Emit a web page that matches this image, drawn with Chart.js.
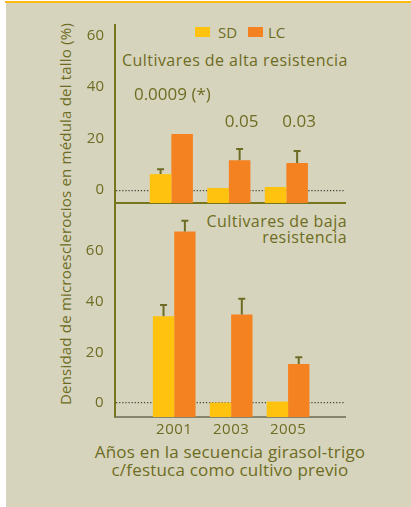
<!DOCTYPE html>
<html>
<head>
<meta charset="utf-8">
<script src="https://cdn.jsdelivr.net/npm/chart.js@4.4.1/dist/chart.umd.min.js"></script>
<style>
  body { margin: 0; width: 411px; height: 507px; overflow: hidden; background: #fff; font-family: "Open Sans", sans-serif; color: #6e6c22; }
  #panel { position: absolute; left: 6px; top: 3px; right: 0; bottom: 0; background: #d6d4bd; }
  #topline { position: absolute; left: 5px; top: 1px; right: 0; height: 2px; background: #fdb913; }
  canvas { position: absolute; left: 0; }
  #cTop { top: 0; }
  #cBot { top: 203px; }
  .txt { position: absolute; white-space: nowrap; }
  .sw { position: absolute; width: 15px; height: 10px; }
  #ytitle { position: absolute; left: -135px; top: 205px; width: 400px; text-align: center; font-size: 15px; letter-spacing: 0.2px; line-height: 18px; transform: rotate(-90deg); }
  #xtitle { position: absolute; left: 30px; top: 443px; width: 400px; text-align: center; font-size: 17px; letter-spacing: 0.2px; line-height: 18px; }
</style>
</head>
<body>
<div id="panel"></div>
<div id="topline"></div>

<div class="sw" style="left:195px; top:27px; background:#ffc20e"></div>
<div class="txt" style="left:218px; top:22px; font-size:15px">SD</div>
<div class="sw" style="left:248px; top:27px; background:#f58220"></div>
<div class="txt" style="left:268px; top:22px; font-size:15px">LC</div>

<div class="txt" style="left:122px; top:49px; font-size:16px; letter-spacing:0.45px">Cultivares de alta resistencia</div>
<div class="txt" style="right:64px; top:214px; font-size:16px; letter-spacing:0.45px; line-height:15.5px; text-align:right">Cultivares de baja<br>resistencia</div>

<div id="ytitle">Densidad de microesclerocios en médula del tallo (%)</div>
<div id="xtitle"></div>

<canvas id="cTop" width="411" height="215"></canvas>
<canvas id="cBot" width="411" height="304"></canvas>

<script>
const years = ['2001', '2003', '2005'];
const yTicks = [0, 20, 40, 60];
const seriesNames = ['SD', 'LC'];
const xTitle = ['Años en la secuencia girasol-trigo', 'c/festuca como cultivo previo'];

// Cultivares de alta resistencia
const altaSD = [6.2, 0.8, 1.2];
const altaLC = [21.7, 11.6, 10.5];
const altaSDErr = [1.9, null, null];
const altaLCErr = [null, 4.3, 4.7];
const altaP = ['0.0009 (*)', '0.05', '0.03'];

// Cultivares de baja resistencia
const bajaSD = [34.3, 0.2, 0.6];
const bajaLC = [67.7, 35.0, 15.4];
const bajaSDErr = [4.4, null, null];
const bajaLCErr = [4.3, 6.2, 2.7];

const OLIVE = '#6e6c22';
const SD_COLOR = '#ffc20e';
const LC_COLOR = '#f58220';

Chart.defaults.font.family = '"Open Sans", sans-serif';
Chart.defaults.color = OLIVE;

document.getElementById('xtitle').innerHTML = xTitle.join('<br>');

const errorBars = {
  id: 'errorBars',
  afterDatasetsDraw(chart) {
    const { ctx } = chart;
    const y = chart.scales.y;
    chart.data.datasets.forEach((ds, i) => {
      chart.getDatasetMeta(i).data.forEach((bar, j) => {
        const e = ds.err[j];
        if (e == null) return;
        const top = y.getPixelForValue(ds.data[j].y + e);
        ctx.save();
        ctx.strokeStyle = OLIVE;
        ctx.lineWidth = 2;
        ctx.beginPath();
        ctx.moveTo(bar.x, bar.y);
        ctx.lineTo(bar.x, top);
        ctx.moveTo(bar.x - 3.5, top);
        ctx.lineTo(bar.x + 3.5, top);
        ctx.stroke();
        ctx.restore();
      });
    });
  }
};

const pLabels = {
  id: 'pLabels',
  afterDraw(chart) {
    const { ctx } = chart;
    const lc = chart.getDatasetMeta(1).data;
    ctx.save();
    ctx.font = '17px "Open Sans", sans-serif';
    ctx.fillStyle = OLIVE;
    ctx.textAlign = 'center';
    ctx.textBaseline = 'middle';
    altaP.forEach((t, i) => {
      const x = i === 0 ? chart.scales.x.getPixelForValue(i) + 1 : lc[i].x + 2;
      ctx.fillText(t, x, i === 0 ? 95 : 122);
    });
    ctx.restore();
  }
};

// wider tracking for the axis texts, like the original typeface
const spacing = {
  id: 'spacing',
  beforeDraw(chart, args, opts) { chart.ctx.letterSpacing = opts.value || '0px'; }
};

function makeDatasets(sd, lc, sdErr, lcErr, base) {
  return [
    { label: seriesNames[0], data: sd.map((v, i) => ({ x: i, y: v })), err: sdErr, backgroundColor: SD_COLOR, base },
    { label: seriesNames[1], data: lc.map((v, i) => ({ x: i, y: v })), err: lcErr, backgroundColor: LC_COLOR, base }
  ];
}

function makeOptions(o) {
  return {
    responsive: false,
    animation: false,
    layout: { padding: o.padding },
    datasets: { bar: { categoryPercentage: 0.75, barPercentage: 1 } },
    plugins: { legend: { display: false }, tooltip: { enabled: false }, spacing: { value: o.spacing } },
    scales: {
      x: {
        type: 'linear',
        offset: false,
        min: o.xMin, max: o.xMax,
        afterBuildTicks: s => { s.ticks = years.map((_, i) => ({ value: i })); },
        afterFit: s => { s.height = o.xHeight; s.paddingLeft = 0; s.paddingRight = 0; },
        grid: { display: false, drawTicks: false },
        border: { color: o.xBorder, width: 2 },
        ticks: { display: o.xLabels, padding: 4, maxRotation: 0, font: { size: 15 }, callback: v => years[v] }
      },
      y: {
        min: o.yMin, max: o.yMax,
        afterBuildTicks: s => { s.ticks = yTicks.map(v => ({ value: v })); },
        afterFit: s => { s.width = 115; s.paddingTop = 0; s.paddingBottom = 0; },
        grid: {
          drawTicks: false,
          lineWidth: 1.2,
          color: c => c.tick && c.tick.value === 0 ? '#4c4b40' : 'rgba(0,0,0,0)'
        },
        border: { color: '#77761f', width: 2, dash: [1.3, 1.8] },
        ticks: { padding: 11, font: { size: 15 } }
      }
    }
  };
}

new Chart(document.getElementById('cTop'), {
  type: 'bar',
  data: { datasets: makeDatasets(altaSD, altaLC, altaSDErr, altaLCErr, -5) },
  options: makeOptions({
    padding: { top: 25, right: 66, bottom: 12, left: 0 },
    xMin: -0.98, xMax: 3.02, xHeight: 0, xLabels: false, xBorder: '#77761f',
    yMin: -5, yMax: 64, spacing: '0px'
  }),
  plugins: [spacing, errorBars, pLabels]
});

new Chart(document.getElementById('cBot'), {
  type: 'bar',
  data: { datasets: makeDatasets(bajaSD, bajaLC, bajaSDErr, bajaLCErr, -5.5) },
  options: makeOptions({
    padding: { top: 0, right: 66, bottom: 10, left: 0 },
    xMin: -1.04, xMax: 3, xHeight: 80, xLabels: true, xBorder: '#86836f',
    yMin: -5.5, yMax: 79, spacing: '0.5px'
  }),
  plugins: [spacing, errorBars]
});
</script>
</body>
</html>
